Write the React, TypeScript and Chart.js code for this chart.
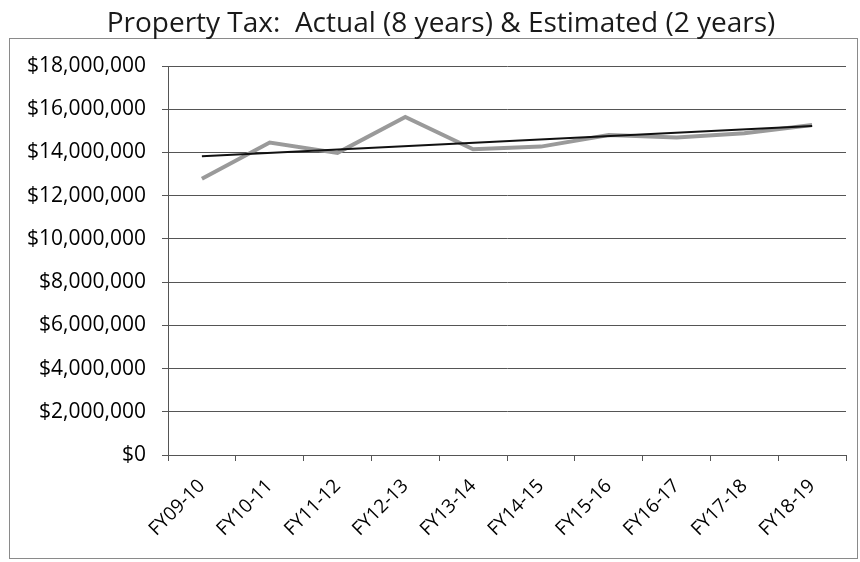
import React, { useEffect, useRef } from "react";
import { Chart, registerables } from "chart.js";

Chart.register(...registerables);

const TITLE = "Property Tax:  Actual (8 years) & Estimated (2 years)";
const categories = [
  "FY09-10", "FY10-11", "FY11-12", "FY12-13", "FY13-14",
  "FY14-15", "FY15-16", "FY16-17", "FY17-18", "FY18-19",
];
const propertyTax = [
  12780000, 14460000, 13980000, 15640000, 14150000,
  14270000, 14810000, 14690000, 14890000, 15270000,
];
const trendValues = [
  13820000, null, null, null, null,
  null, null, null, null, 15220000,
];
const yMin = 0;
const yMax = 18000000;
const yStep = 2000000;

const frameAndTitle = {
  id: "frameAndTitle",
  beforeDraw(chart: any) {
    const ctx = chart.ctx;
    ctx.save();
    ctx.fillStyle = "#ffffff";
    ctx.fillRect(0, 0, chart.width, chart.height);
    ctx.strokeStyle = "#8a8a8a";
    ctx.lineWidth = 1;
    ctx.strokeRect(9.5, 38.5, 848, 520);
    ctx.fillStyle = "#1a1a1a";
    ctx.font = '28px "Open Sans"';
    ctx.textAlign = "center";
    ctx.textBaseline = "alphabetic";
    ctx.fillText(TITLE, 441, 32);
    ctx.restore();
  },
};

export default function App() {
  const ref = useRef<HTMLCanvasElement | null>(null);

  useEffect(() => {
    if (!ref.current) return;
    const chart = new Chart(ref.current, {
      type: "line",
      data: {
        labels: categories,
        datasets: [
          {
            label: "Trend",
            data: trendValues,
            borderColor: "#111111",
            borderWidth: 2,
            pointRadius: 0,
            spanGaps: true,
            tension: 0,
            order: 0,
          },
          {
            label: "Property Tax",
            data: propertyTax,
            borderColor: "#9a9a9a",
            borderWidth: 4,
            pointRadius: 0,
            tension: 0,
            order: 1,
          },
        ],
      },
      options: {
        responsive: false,
        animation: false,
        devicePixelRatio: 1,
        layout: { padding: { left: 0, right: 14, top: 66, bottom: 4 } },
        plugins: {
          legend: { display: false },
          tooltip: { enabled: false },
          title: { display: false },
        },
        scales: {
          x: {
            type: "category",
            offset: true,
            afterFit: (scale: any) => {
              scale.height = 103;
            },
            grid: {
              drawOnChartArea: false,
              drawTicks: true,
              offset: true,
              tickLength: 6,
              color: "#555555",
            },
            border: { display: true, color: "#555555", width: 1 },
            ticks: {
              color: "#000000",
              font: { family: '"Open Sans"', size: 19 },
              maxRotation: 45,
              minRotation: 45,
              autoSkip: false,
              padding: 14,
            },
          },
          y: {
            min: yMin,
            max: yMax,
            afterFit: (scale: any) => {
              scale.width = 168;
            },
            grid: {
              color: "#555555",
              lineWidth: 1,
              drawTicks: true,
              tickLength: 6,
            },
            border: { display: true, color: "#555555", width: 1 },
            ticks: {
              stepSize: yStep,
              color: "#000000",
              font: { family: '"Open Sans"', size: 21 },
              padding: 16,
              callback: (v: any) => "$" + Number(v).toLocaleString("en-US"),
            },
          },
        },
      },
      plugins: [frameAndTitle],
    });
    return () => chart.destroy();
  }, []);

  return (
    <div style={{ position: "absolute", left: 0, top: 0, width: 860, height: 562 }}>
      <canvas ref={ref} width={860} height={562} />
    </div>
  );
}
